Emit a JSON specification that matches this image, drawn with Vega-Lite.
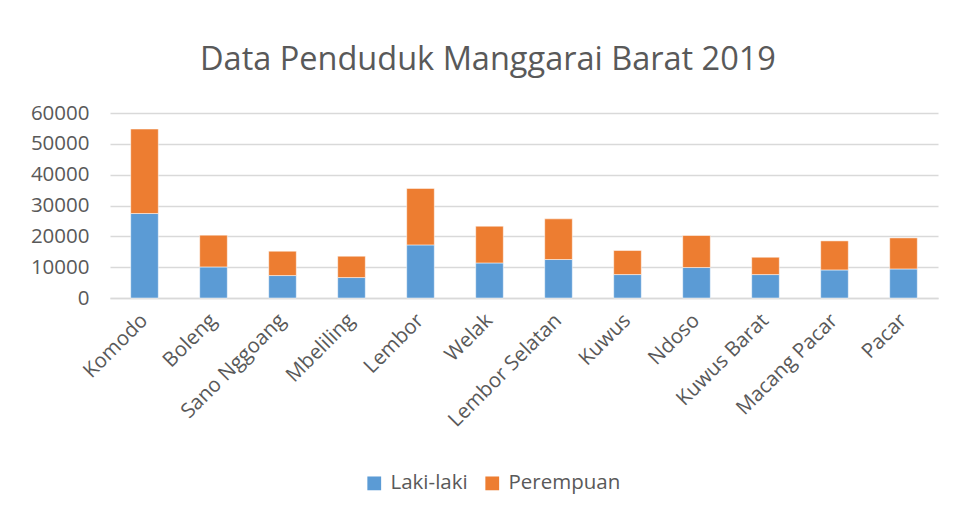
{
  "$schema": "https://vega.github.io/schema/vega-lite/v6.json",
  "width": 828,
  "height": 185,
  "autosize": {"type": "none"},
  "padding": {"left": 110, "top": 113, "right": 15, "bottom": 211},
  "background": "white",
  "title": {
    "text": "Data Penduduk Manggarai Barat 2019",
    "anchor": "middle",
    "frame": "group",
    "dx": -36,
    "offset": 27,
    "font": "Open Sans",
    "fontSize": 32.5,
    "fontWeight": "normal",
    "color": "#595959"
  },
  "data": {
    "values": [
      {"kecamatan": "Komodo", "jenis": "Laki-laki", "jumlah": 27400},
      {"kecamatan": "Komodo", "jenis": "Perempuan", "jumlah": 27400},
      {"kecamatan": "Boleng", "jenis": "Laki-laki", "jumlah": 10070},
      {"kecamatan": "Boleng", "jenis": "Perempuan", "jumlah": 10300},
      {"kecamatan": "Sano Nggoang", "jenis": "Laki-laki", "jumlah": 7280},
      {"kecamatan": "Sano Nggoang", "jenis": "Perempuan", "jumlah": 7890},
      {"kecamatan": "Mbeliling", "jenis": "Laki-laki", "jumlah": 6630},
      {"kecamatan": "Mbeliling", "jenis": "Perempuan", "jumlah": 6920},
      {"kecamatan": "Lembor", "jenis": "Laki-laki", "jumlah": 17220},
      {"kecamatan": "Lembor", "jenis": "Perempuan", "jumlah": 18320},
      {"kecamatan": "Welak", "jenis": "Laki-laki", "jumlah": 11370},
      {"kecamatan": "Welak", "jenis": "Perempuan", "jumlah": 11920},
      {"kecamatan": "Lembor Selatan", "jenis": "Laki-laki", "jumlah": 12480},
      {"kecamatan": "Lembor Selatan", "jenis": "Perempuan", "jumlah": 13190},
      {"kecamatan": "Kuwus", "jenis": "Laki-laki", "jumlah": 7600},
      {"kecamatan": "Kuwus", "jenis": "Perempuan", "jumlah": 7800},
      {"kecamatan": "Ndoso", "jenis": "Laki-laki", "jumlah": 9880},
      {"kecamatan": "Ndoso", "jenis": "Perempuan", "jumlah": 10390},
      {"kecamatan": "Kuwus Barat", "jenis": "Laki-laki", "jumlah": 7600},
      {"kecamatan": "Kuwus Barat", "jenis": "Perempuan", "jumlah": 5620},
      {"kecamatan": "Macang Pacar", "jenis": "Laki-laki", "jumlah": 9100},
      {"kecamatan": "Macang Pacar", "jenis": "Perempuan", "jumlah": 9420},
      {"kecamatan": "Pacar", "jenis": "Laki-laki", "jumlah": 9420},
      {"kecamatan": "Pacar", "jenis": "Perempuan", "jumlah": 10070}
    ]
  },
  "mark": {"type": "bar", "stroke": "white", "strokeWidth": 0.5},
  "encoding": {
    "x": {
      "field": "kecamatan",
      "type": "nominal",
      "sort": null,
      "scale": {"paddingInner": 0.6, "paddingOuter": 0.3},
      "axis": {
        "title": null,
        "labelAngle": -45,
        "labelAlign": "right",
        "labelBaseline": "middle",
        "labelPadding": 19,
        "ticks": false,
        "domain": true,
        "domainColor": "#d9d9d9",
        "domainWidth": 1.5,
        "labelFont": "Open Sans",
        "labelFontSize": 20.5,
        "labelColor": "#595959"
      }
    },
    "y": {
      "field": "jumlah",
      "type": "quantitative",
      "aggregate": "sum",
      "stack": "zero",
      "scale": {"domain": [0, 60000], "nice": false},
      "axis": {
        "title": null,
        "values": [0, 10000, 20000, 30000, 40000, 50000, 60000],
        "format": "d",
        "ticks": false,
        "domain": false,
        "grid": true,
        "gridColor": "#d9d9d9",
        "gridWidth": 1.5,
        "labelPadding": 21,
        "labelFont": "Open Sans",
        "labelFontSize": 20.5,
        "labelColor": "#595959"
      }
    },
    "color": {
      "field": "jenis",
      "type": "nominal",
      "scale": {"domain": ["Laki-laki", "Perempuan"], "range": ["#5B9BD5", "#ED7D31"]},
      "legend": {
        "title": null,
        "orient": "none",
        "direction": "horizontal",
        "legendX": 254,
        "legendY": 360,
        "symbolType": "square",
        "symbolSize": 190,
        "symbolStrokeWidth": 0,
        "columnPadding": 14,
        "labelFont": "Open Sans",
        "labelFontSize": 20.5,
        "labelColor": "#595959",
        "labelOffset": 6
      }
    },
    "order": {"field": "jenis", "sort": "ascending"}
  },
  "config": {"view": {"stroke": null}}
}
